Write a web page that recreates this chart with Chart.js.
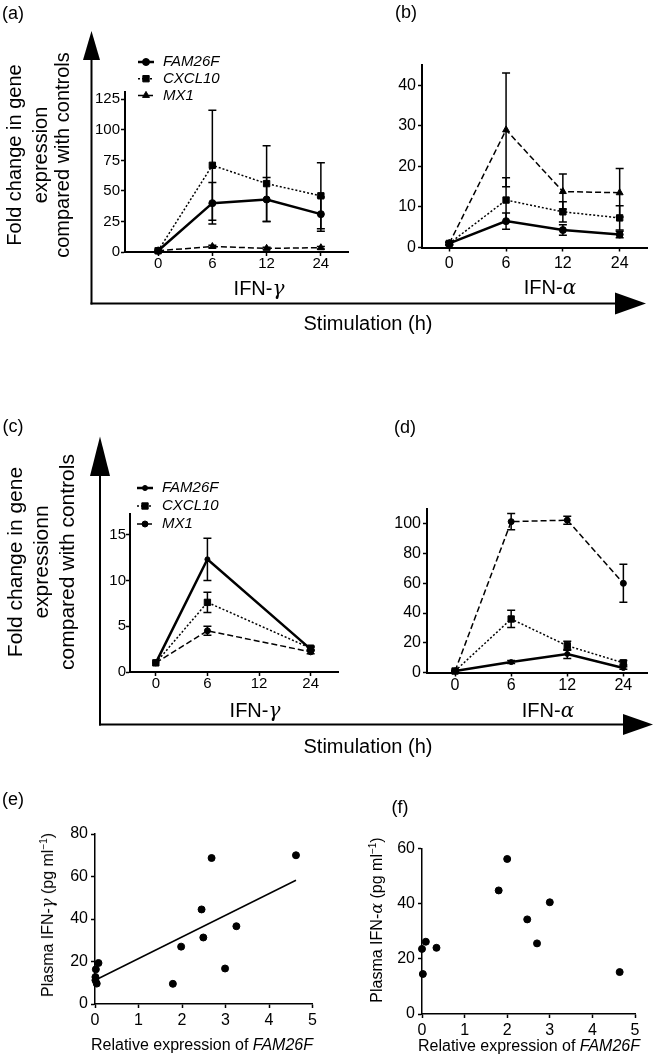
<!DOCTYPE html>
<html>
<head>
<meta charset="utf-8">
<script src="https://cdn.jsdelivr.net/npm/chart.js@4.4.1/dist/chart.umd.min.js"></script>
<style>
  body { margin: 0; background: #fff; }
  #page { position: relative; width: 653px; height: 1061px; overflow: hidden; font-family: 'Liberation Sans', Arial, sans-serif; color: #000; }
  #page canvas, #page svg { position: absolute; left: 0; top: 0; }
  .t { position: absolute; white-space: nowrap; line-height: 1; transform: translate(-50%, -50%); }
  .r { transform: translate(-50%, -50%) rotate(-90deg); }
  .g { font-family: 'DejaVu Serif', 'Liberation Serif', serif; font-style: italic; }
  sup { font-size: 10px; line-height: 0; vertical-align: 6px; }
</style>
</head>
<body>
<div id="page">
  <svg width="653" height="1061">
    <g stroke="#000" stroke-width="2">
      <line x1="91.5" y1="58" x2="91.5" y2="304.5"/>
      <line x1="90.5" y1="303.5" x2="616" y2="303.5"/>
      <line x1="100" y1="474" x2="100" y2="725.5"/>
      <line x1="99" y1="724.5" x2="624" y2="724.5"/>
    </g>
    <g fill="#000">
      <polygon points="83,60 100,60 91.5,31"/>
      <polygon points="615,292.5 646,303.5 615,314.5"/>
      <polygon points="90,476 110,476 100,436.5"/>
      <polygon points="623,714 653,724.5 623,735"/>
    </g>
  </svg>
  <canvas id="ca" width="653" height="1061"></canvas>
  <canvas id="cb" width="653" height="1061"></canvas>
  <canvas id="cc" width="653" height="1061"></canvas>
  <canvas id="cd" width="653" height="1061"></canvas>
  <canvas id="ce" width="653" height="1061"></canvas>
  <canvas id="cf" width="653" height="1061"></canvas>

  <div class="t" style="left:13px;top:13px;font-size:18px">(a)</div>
  <div class="t" style="left:406px;top:12px;font-size:18px">(b)</div>
  <div class="t" style="left:13px;top:426px;font-size:18px">(c)</div>
  <div class="t" style="left:405px;top:427px;font-size:18px">(d)</div>
  <div class="t" style="left:13px;top:799px;font-size:18px">(e)</div>
  <div class="t" style="left:400px;top:807px;font-size:18px">(f)</div>

  <div class="t r" style="left:14px;top:155px;font-size:20px">Fold change in gene</div>
  <div class="t r" style="left:40px;top:155px;font-size:20px">expression</div>
  <div class="t r" style="left:62px;top:155px;font-size:20px">compared with controls</div>

  <div class="t r" style="left:14px;top:562px;font-size:21px">Fold change in gene</div>
  <div class="t r" style="left:40px;top:562px;font-size:21px">expressionn</div>
  <div class="t r" style="left:66px;top:562px;font-size:21px">compared with controls</div>

  <div class="t" style="left:259px;top:288px;font-size:20px">IFN-<span class="g">γ</span></div>
  <div class="t" style="left:550px;top:287px;font-size:20px">IFN-<span class="g">α</span></div>
  <div class="t" style="left:255px;top:710px;font-size:20px">IFN-<span class="g">γ</span></div>
  <div class="t" style="left:548px;top:710px;font-size:20px">IFN-<span class="g">α</span></div>

  <div class="t" style="left:368px;top:323px;font-size:20px">Stimulation (h)</div>
  <div class="t" style="left:368px;top:746px;font-size:20px">Stimulation (h)</div>

  <div class="t" style="left:202px;top:1045px;font-size:16px">Relative expression of <i>FAM26F</i></div>
  <div class="t" style="left:529px;top:1046px;font-size:16px">Relative expression of <i>FAM26F</i></div>
  <div class="t r" style="left:48px;top:915px;font-size:16px">Plasma IFN-<span class="g">γ</span> (pg ml<sup>−1</sup>)</div>
  <div class="t r" style="left:377px;top:920px;font-size:16px">Plasma IFN-<span class="g">α</span> (pg ml<sup>−1</sup>)</div>
</div>

<script>
// time points (h) and genes
const hours = ['0', '6', '12', '24'];
const genes = ['FAM26F', 'CXCL10', 'MX1'];

// (a) IFN-gamma stimulation, fold change (mean, error)
const aFAM26F = [1, 40, 43, 31];
const aFAM26Ferr = [0, 17, 18, 14];
const aCXCL10 = [1, 71, 56, 46];
const aCXCL10err = [0, 45, 31, 27];
const aMX1 = [1, 4.5, 3, 3.5];
const aMX1err = [0, 1, 0.8, 1];
const aTicks = [0, 25, 50, 75, 100, 125];

// (b) IFN-alpha stimulation
const bFAM26F = [1, 6.5, 4.3, 3.2];
const bFAM26Ferr = [0.3, 2, 1.3, 0.8];
const bCXCL10 = [1, 11.7, 8.8, 7.3];
const bCXCL10err = [0.3, 5.5, 2.5, 3];
const bMX1 = [1, 29, 13.8, 13.5];
const bMX1err = [0.3, 14, 4.3, 6];
const bTicks = [0, 10, 20, 30, 40];

// (c) IFN-gamma, second experiment (no 12 h point)
const cFAM26F = [1, 12.3, null, 2.5];
const cFAM26Ferr = [0, 2.3, null, 0.2];
const cCXCL10 = [1, 7.6, null, 2.6];
const cCXCL10err = [0, 1.1, null, 0.2];
const cMX1 = [1, 4.5, null, 2.2];
const cMX1err = [0, 0.5, null, 0.2];
const cTicks = [0, 5, 10, 15];

// (d) IFN-alpha, second experiment
const dFAM26F = [1, 7, 12.5, 3];
const dFAM26Ferr = [0.3, 1, 3, 0.8];
const dCXCL10 = [1, 36, 18, 6.5];
const dCXCL10err = [0.3, 5.8, 3, 1.5];
const dMX1 = [1, 101.5, 102.5, 60];
const dMX1err = [0.3, 5.5, 2.7, 12.8];
const dTicks = [0, 20, 40, 60, 80, 100];

// (e) plasma IFN-gamma vs FAM26F
const eFAM26F = [4.62, 2.68, 2.45, 2.49, 3.25, 1.98, 2.99, 1.79, 0.08, 0.02, 0.01, 0.01, 0.04];
const eIFNg = [70, 68.7, 44.5, 31.3, 36.6, 27, 16.7, 9.5, 19.3, 16.3, 12.7, 11.2, 9.6];
const eTicks = [0, 20, 40, 60, 80];

// (f) plasma IFN-alpha vs FAM26F
const fFAM26F = [2.0, 1.8, 3.0, 2.47, 2.7, 4.64, 0.09, 0.0, 0.34, 0.02];
const fIFNa = [56.2, 44.8, 40.5, 34.3, 25.6, 15.2, 26.2, 23.6, 24.0, 14.5];
const fTicks = [0, 20, 40, 60];
const relTicks = [0, 1, 2, 3, 4, 5];

Chart.defaults.font.family = "'Liberation Sans', Arial, sans-serif";
Chart.defaults.color = '#000';

const PAGE_W = 653, PAGE_H = 1061;
const Y_W = 50, X_H = 30;

// vertical error bars with caps, drawn under the lines
const errorBars = {
  id: 'errorBars',
  beforeDatasetsDraw(chart) {
    const ctx = chart.ctx, ys = chart.scales.y;
    chart.data.datasets.forEach((ds, i) => {
      if (!ds.errors) return;
      const pts = chart.getDatasetMeta(i).data;
      ctx.save();
      ctx.strokeStyle = '#000';
      ctx.lineWidth = 1.5;
      ds.errors.forEach((e, j) => {
        const p = ds.data[j];
        if (!e || p.y == null) return;
        const x = pts[j].x;
        const top = ys.getPixelForValue(p.y + e);
        const bot = ys.getPixelForValue(p.y - e);
        ctx.beginPath();
        ctx.moveTo(x, top); ctx.lineTo(x, bot);
        ctx.moveTo(x - 4, top); ctx.lineTo(x + 4, top);
        ctx.moveTo(x - 4, bot); ctx.lineTo(x + 4, bot);
        ctx.stroke();
      });
      ctx.restore();
    });
  }
};

// small legend: line sample + marker + italic gene name
const legendLines = {
  id: 'legendLines',
  afterDraw(chart, args, opts) {
    if (!opts.x) return;
    const ctx = chart.ctx;
    chart.data.datasets.forEach((ds, i) => {
      const y = opts.y + i * opts.dy;
      ctx.save();
      ctx.strokeStyle = '#000';
      ctx.fillStyle = '#000';
      ctx.lineWidth = ds.borderWidth;
      ctx.setLineDash(ds.borderDash || []);
      ctx.beginPath();
      ctx.moveTo(opts.x, y);
      ctx.lineTo(opts.x + 16, y);
      ctx.stroke();
      ctx.setLineDash([]);
      ctx.lineWidth = 1;
      Chart.helpers.drawPoint(ctx, { pointStyle: ds.pointStyle, radius: ds.pointRadius, rotation: 0, borderWidth: 1 }, opts.x + 8, y);
      ctx.font = "italic 15px 'Liberation Sans', Arial, sans-serif";
      ctx.textBaseline = 'middle';
      ctx.fillText(ds.label, opts.x + 25, y);
      ctx.restore();
    });
  }
};

function axisStyle(size, pad, lw) {
  return {
    type: 'linear',
    border: { display: true, color: '#000', width: lw },
    grid: { display: true, drawOnChartArea: false, drawTicks: true, tickLength: 4, tickWidth: 1.5, tickColor: '#000' },
    ticks: { font: { size: size }, padding: pad, color: '#000', maxRotation: 0, autoSkip: false, callback: v => String(v) }
  };
}

function hourAxis(min, max, size, pad) {
  const a = axisStyle(size, pad, 2);
  a.min = min; a.max = max;
  a.afterBuildTicks = s => { s.ticks = hours.map((h, i) => ({ value: i })); };
  a.ticks.callback = v => hours[v];
  a.afterFit = s => { s.height = X_H; };
  return a;
}

function valueAxis(min, max, tickVals, size, pad, horizontal, lw) {
  const a = axisStyle(size, pad, lw || 2);
  a.min = min; a.max = max;
  a.afterBuildTicks = s => { s.ticks = tickVals.map(v => ({ value: v })); };
  a.afterFit = horizontal ? (s => { s.height = X_H; }) : (s => { s.width = Y_W; });
  return a;
}

const solid = { borderWidth: 2.5, borderDash: [], pointStyle: 'circle', pointRadius: 3.5 };
const dotted = { borderWidth: 1.5, borderDash: [2, 2], pointStyle: 'rect', pointRadius: 4.5 };
const dashed = { borderWidth: 1.5, borderDash: [6, 3], pointStyle: 'triangle', pointRadius: 4 };
const solidSmall = { borderWidth: 2.5, borderDash: [], pointStyle: 'circle', pointRadius: 2.5 };
const dashedRound = { borderWidth: 1.5, borderDash: [6, 3], pointStyle: 'circle', pointRadius: 3 };

function series(label, vals, errs, style) {
  return Object.assign({
    label: label,
    data: vals.map((v, i) => ({ x: i, y: v })),
    errors: errs,
    borderColor: '#000',
    backgroundColor: '#000',
    pointBackgroundColor: '#000',
    pointBorderColor: '#000',
    pointBorderWidth: 1,
    tension: 0,
    spanGaps: true,
    clip: false
  }, style);
}

function buildChart(id, box, xAxis, yAxis, datasets, legend) {
  return new Chart(document.getElementById(id), {
    type: 'line',
    data: { datasets: datasets },
    options: {
      responsive: false,
      animation: false,
      events: [],
      layout: { padding: { left: box.left - Y_W, top: box.top, right: PAGE_W - box.right, bottom: PAGE_H - box.bottom - X_H } },
      plugins: { legend: { display: false }, tooltip: { enabled: false }, legendLines: legend || {} },
      scales: { x: xAxis, y: yAxis }
    },
    plugins: [errorBars, legendLines]
  });
}

// least-squares line for panel (e)
function fitLine(xs, ys) {
  const n = xs.length;
  const mx = xs.reduce((s, v) => s + v, 0) / n;
  const my = ys.reduce((s, v) => s + v, 0) / n;
  let sxy = 0, sxx = 0;
  xs.forEach((x, i) => { sxy += (x - mx) * (ys[i] - my); sxx += (x - mx) * (x - mx); });
  const slope = sxy / sxx;
  const icpt = my - slope * mx;
  const x1 = Math.max(...xs);
  return [{ x: 0, y: icpt }, { x: x1, y: icpt + slope * x1 }];
}

function dots(xs, ys) {
  return {
    data: xs.map((x, i) => ({ x: x, y: ys[i] })),
    showLine: false,
    pointStyle: 'circle',
    pointRadius: 3.5,
    pointBackgroundColor: '#000',
    pointBorderColor: '#000',
    clip: false
  };
}

buildChart('ca', { left: 125, top: 92, right: 348, bottom: 252 },
  hourAxis(-0.61, 3.5, 15, -1), valueAxis(0, 131, aTicks, 15, 1), [
    series(genes[0], aFAM26F, aFAM26Ferr, solid),
    series(genes[1], aCXCL10, aCXCL10err, dotted),
    series(genes[2], aMX1, aMX1err, dashed)
  ], { x: 138, y: 62, dy: 16.7 });

buildChart('cb', { left: 422, top: 65, right: 648, bottom: 247.5 },
  hourAxis(-0.48, 3.49, 16, 2), valueAxis(0, 45, bTicks, 16, 2), [
    series(genes[0], bFAM26F, bFAM26Ferr, solid),
    series(genes[1], bCXCL10, bCXCL10err, dotted),
    series(genes[2], bMX1, bMX1err, dashed)
  ]);

buildChart('cc', { left: 130, top: 513.5, right: 338, bottom: 672 },
  hourAxis(-0.5, 3.53, 15, -1), valueAxis(0, 17.3, cTicks, 15, 0), [
    series(genes[0], cFAM26F, cFAM26Ferr, solidSmall),
    series(genes[1], cCXCL10, cCXCL10err, dotted),
    series(genes[2], cMX1, cMX1err, dashedRound)
  ], { x: 137, y: 488, dy: 18 });

buildChart('cd', { left: 427, top: 509, right: 648, bottom: 672.5 },
  hourAxis(-0.5, 3.43, 16, -1), valueAxis(0, 110, dTicks, 16, 2), [
    series(genes[0], dFAM26F, dFAM26Ferr, solidSmall),
    series(genes[1], dCXCL10, dCXCL10err, dotted),
    series(genes[2], dMX1, dMX1err, dashedRound)
  ]);

buildChart('ce', { left: 95, top: 834, right: 312.5, bottom: 1004 },
  valueAxis(0, 5, relTicks, 16, 3, true, 1.5), valueAxis(0, 80, eTicks, 16, 3, false, 1.5), [
    dots(eFAM26F, eIFNg),
    { data: fitLine(eFAM26F, eIFNg), borderColor: '#000', borderWidth: 1.5, pointRadius: 0, tension: 0, clip: false }
  ]);

buildChart('cf', { left: 422, top: 848.5, right: 635, bottom: 1014 },
  valueAxis(0, 5, relTicks, 16, 3, true, 1.5), valueAxis(0, 60, fTicks, 16, 3, false, 1.5), [
    dots(fFAM26F, fIFNa)
  ]);
</script>
</body>
</html>
